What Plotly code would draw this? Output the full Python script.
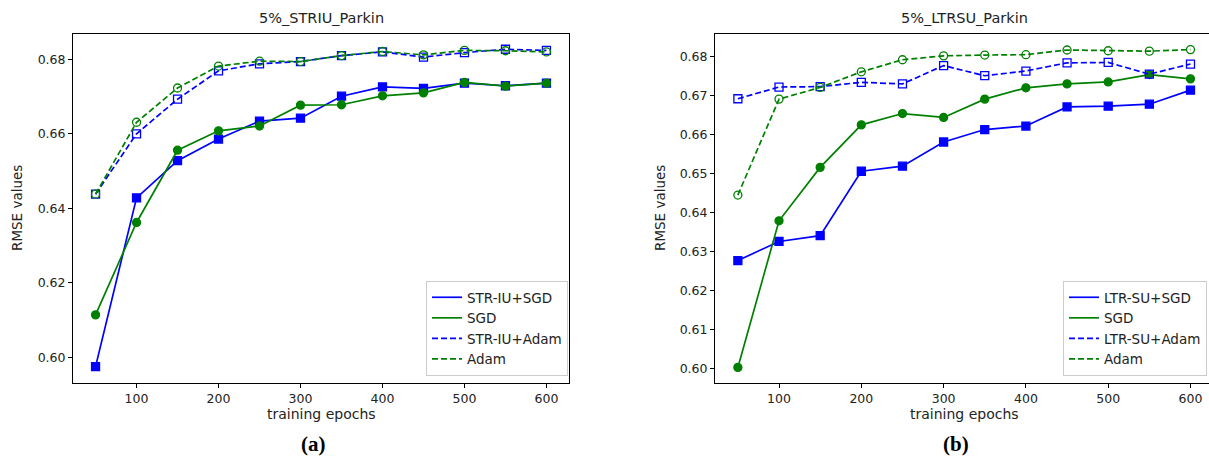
import plotly.graph_objects as go

epochs = [50, 100, 150, 200, 250, 300, 350, 400, 450, 500, 550, 600]

# (a) 5%_STRIU_Parkin
a_str_sgd = [0.5975, 0.6428, 0.6528, 0.6586, 0.6634, 0.6642, 0.6701, 0.6726, 0.6722, 0.6736, 0.6729, 0.6736]
a_sgd = [0.6114, 0.6362, 0.6556, 0.6608, 0.6621, 0.6677, 0.6678, 0.6702, 0.6710, 0.6738, 0.6728, 0.6736]
a_str_adam = [0.6438, 0.6600, 0.6693, 0.6769, 0.6788, 0.6794, 0.6810, 0.6820, 0.6806, 0.6818, 0.6827, 0.6824]
a_adam = [0.6438, 0.6631, 0.6723, 0.6782, 0.6795, 0.6794, 0.6810, 0.6821, 0.6812, 0.6824, 0.6823, 0.6820]

# (b) 5%_LTRSU_Parkin
b_ltr_sgd = [0.6277, 0.6326, 0.6341, 0.6506, 0.6519, 0.6581, 0.6613, 0.6622, 0.6671, 0.6673, 0.6678, 0.6714]
b_sgd = [0.6003, 0.6379, 0.6516, 0.6625, 0.6654, 0.6644, 0.6691, 0.6720, 0.6730, 0.6735, 0.6754, 0.6743]
b_ltr_adam = [0.6692, 0.6722, 0.6723, 0.6734, 0.6730, 0.6777, 0.6751, 0.6763, 0.6784, 0.6785, 0.6755, 0.6781]
b_adam = [0.6445, 0.6691, 0.6721, 0.6761, 0.6792, 0.6802, 0.6804, 0.6805, 0.6817, 0.6815, 0.6814, 0.6818]

titles = ["5%_STRIU_Parkin", "5%_LTRSU_Parkin"]
legend_a = ["STR-IU+SGD", "SGD", "STR-IU+Adam", "Adam"]
legend_b = ["LTR-SU+SGD", "SGD", "LTR-SU+Adam", "Adam"]
x_ticks = [100, 200, 300, 400, 500, 600]
y_ticks_a = [0.60, 0.62, 0.64, 0.66, 0.68]
y_ticks_b = [0.60, 0.61, 0.62, 0.63, 0.64, 0.65, 0.66, 0.67, 0.68]
captions = ["(a)", "(b)"]

BLUE = "#0000ff"
GREEN = "#008000"
DASH = "6px,3px"
W, H = 1209, 465
FONT = "DejaVu Sans"

styles = [
    dict(color=BLUE, dash="solid", symbol="square"),
    dict(color=GREEN, dash="solid", symbol="circle"),
    dict(color=BLUE, dash=DASH, symbol="square-open"),
    dict(color=GREEN, dash=DASH, symbol="circle-open"),
]

fig = go.Figure()

panels = [
    ("x", "y", "legend", [a_str_sgd, a_sgd, a_str_adam, a_adam], legend_a),
    ("x2", "y2", "legend2", [b_ltr_sgd, b_sgd, b_ltr_adam, b_adam], legend_b),
]
for xa, ya, lg, series, names in panels:
    for s, st, nm in zip(series, styles, names):
        fig.add_trace(go.Scatter(
            x=epochs, y=s, mode="lines+markers", xaxis=xa, yaxis=ya,
            line=dict(color=st["color"], dash=st["dash"], width=1.7),
            marker=dict(symbol=st["symbol"], size=8, color=st["color"],
                        line=dict(color=st["color"], width=1.3)),
            showlegend=False, name=nm,
        ))
    for st, nm in zip(styles, names):
        fig.add_trace(go.Scatter(
            x=[None], y=[None], mode="lines", xaxis=xa, yaxis=ya,
            line=dict(color=st["color"], dash=st["dash"], width=1.7),
            name=nm, legend=lg, showlegend=True,
        ))

# pixel geometry
ax_a = (73, 569)
ax_b = (715, 1213)
top, bottom = 34, 383
ydom = [(H - bottom) / H, (H - top) / H]

axis_common = dict(
    showline=True, linecolor="#000", linewidth=1, mirror=True,
    ticks="outside", ticklen=4, tickcolor="#000", tickwidth=1,
    showgrid=False, zeroline=False,
    tickfont=dict(family=FONT, size=12.5, color="#222"),
)

fig.update_layout(
    width=W, height=H,
    margin=dict(l=0, r=0, t=0, b=0),
    paper_bgcolor="white", plot_bgcolor="white",
    xaxis=dict(domain=[ax_a[0] / W, ax_a[1] / W], range=[22.5, 627.5],
               tickvals=x_ticks, anchor="y", **axis_common),
    yaxis=dict(domain=ydom, range=[0.5931, 0.6868], tickvals=y_ticks_a,
               tickformat=".2f", anchor="x", **axis_common),
    xaxis2=dict(domain=[ax_b[0] / W, 1.0], range=[22.2, 622.5],
                tickvals=x_ticks, anchor="y2", **axis_common),
    yaxis2=dict(domain=ydom, range=[0.5963, 0.6858], tickvals=y_ticks_b,
                tickformat=".2f", anchor="x2", **axis_common),
)

legend_common = dict(
    bgcolor="rgba(255,255,255,0.85)", bordercolor="#cccccc", borderwidth=1,
    font=dict(family=FONT, size=13.5, color="#222"),
    xanchor="right", yanchor="bottom", tracegroupgap=0,
    itemwidth=30,
)
fig.update_layout(
    legend=dict(x=568 / W, y=(H - 376) / H, **legend_common),
    legend2=dict(x=1207 / W, y=(H - 376) / H, **legend_common),
)

annotations = []
for (l, r), t, cap in [(ax_a, titles[0], captions[0]), (ax_b, titles[1], captions[1])]:
    cx = (l + r) / 2
    annotations.append(dict(x=cx / W, y=(H - 18) / H, xref="paper", yref="paper",
                            text=t, showarrow=False, xanchor="center", yanchor="middle",
                            font=dict(family=FONT, size=14.5, color="#222")))
    annotations.append(dict(x=cx / W, y=(H - 414) / H, xref="paper", yref="paper",
                            text="training epochs", showarrow=False, xanchor="center",
                            yanchor="middle", font=dict(family=FONT, size=14, color="#222")))
    annotations.append(dict(x=(cx - 8) / W, y=(H - 444) / H, xref="paper", yref="paper",
                            text="<b>" + cap + "</b>", showarrow=False, xanchor="center",
                            yanchor="middle",
                            font=dict(family="Liberation Serif", size=21, color="#000")))
for lx in [17, 660]:
    annotations.append(dict(x=lx / W, y=(H - 208) / H, xref="paper", yref="paper",
                            text="RMSE values", showarrow=False, textangle=-90,
                            xanchor="center", yanchor="middle",
                            font=dict(family=FONT, size=13.5, color="#222")))
fig.update_layout(annotations=annotations)

fig.write_html("out.html")
